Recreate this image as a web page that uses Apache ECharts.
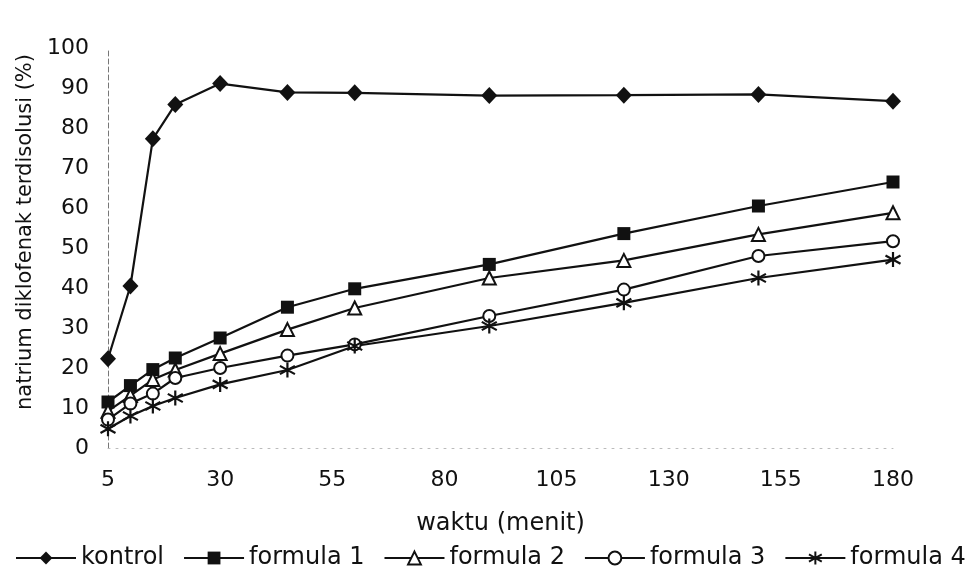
<!DOCTYPE html>
<html>
<head>
<meta charset="utf-8">
<script src="https://cdn.jsdelivr.net/npm/echarts@6/dist/echarts.min.js"></script>
<style>
html,body{margin:0;padding:0;background:#fff;}
#chart{width:979px;height:575px;}
</style>
</head>
<body>
<div id="chart"></div>
<script>
var times = [5, 10, 15, 20, 30, 45, 60, 90, 120, 150, 180];
var kontrol = [22.3, 40.5, 77.3, 85.9, 91.1, 88.9, 88.8, 88.1, 88.2, 88.4, 86.7];
var formula1 = [11.5, 15.6, 19.6, 22.5, 27.5, 35.2, 39.8, 45.9, 53.6, 60.5, 66.5];
var formula2 = [9.2, 13.1, 17.1, 19.5, 23.6, 29.6, 35.0, 42.5, 46.9, 53.4, 58.8];
var formula3 = [7.1, 11.1, 13.6, 17.5, 20.0, 23.1, 25.9, 33.0, 39.6, 48.0, 51.7];
var formula4 = [4.8, 8.0, 10.5, 12.5, 15.9, 19.5, 25.5, 30.5, 36.3, 42.5, 47.1];
var seriesNames = ['kontrol', 'formula 1', 'formula 2', 'formula 3', 'formula 4'];
var xAxisTitle = 'waktu (menit)';
var yAxisTitle = 'natrium diklofenak terdisolusi (%)';

function pairs(ys) { return times.map(function (t, i) { return [t, ys[i]]; }); }

var FONT = 'DejaVu Sans';
var INK = '#111';
var starPath = 'path://M10,0 L10,20 M1.5,4.5 L18.5,15.5 M18.5,4.5 L1.5,15.5';

function mk(name, data, symbol, size, empty) {
  var isPath = symbol.indexOf('path') === 0;
  return {
    name: name,
    type: 'line',
    data: pairs(data),
    symbol: symbol,
    symbolSize: size,
    showAllSymbol: true,
    lineStyle: { color: INK, width: 2.2 },
    itemStyle: empty ? { color: INK, borderColor: INK, borderWidth: 2 } :
      { color: INK, borderColor: INK, borderWidth: isPath ? 2.2 : 0 },
    z: 3,
    animation: false
  };
}

var chart = echarts.init(document.getElementById('chart'));
chart.setOption({
  backgroundColor: '#fff',
  animation: false,
  grid: { left: 108, right: 86, top: 48, bottom: 127 },
  xAxis: {
    type: 'value', min: 5, max: 180, interval: 25,
    name: xAxisTitle, nameLocation: 'middle', nameGap: 64,
    nameTextStyle: { fontFamily: FONT, fontSize: 24, color: INK },
    axisLine: { show: true, lineStyle: { color: '#bbb', width: 1, type: [2, 6] } },
    axisTick: { show: false },
    splitLine: { show: false },
    axisLabel: { fontFamily: FONT, fontSize: 22, color: INK, margin: 21 }
  },
  yAxis: {
    type: 'value', min: 0, max: 100, interval: 10,
    name: yAxisTitle, nameLocation: 'middle', nameGap: 62,
    nameTextStyle: { fontFamily: FONT, fontSize: 21, color: INK, padding: [0, 0, 0, 32] },
    axisLine: { show: true, lineStyle: { color: '#777', width: 1, type: [5, 3] } },
    axisTick: { show: false },
    splitLine: { show: false },
    axisLabel: { fontFamily: FONT, fontSize: 22, color: INK, margin: 19 }
  },
  legend: {
    data: seriesNames,
    left: 10, top: 541,
    itemWidth: 60, itemHeight: 16, itemGap: 19,
    textStyle: { fontFamily: FONT, fontSize: 24, color: INK }
  },
  series: [
    mk(seriesNames[0], kontrol, 'diamond', [16, 17], false),
    mk(seriesNames[1], formula1, 'rect', 13, false),
    mk(seriesNames[2], formula2, 'emptyTriangle', 13, true),
    mk(seriesNames[3], formula3, 'emptyCircle', 12, true),
    mk(seriesNames[4], formula4, starPath, 15, false)
  ]
});
</script>
</body>
</html>
